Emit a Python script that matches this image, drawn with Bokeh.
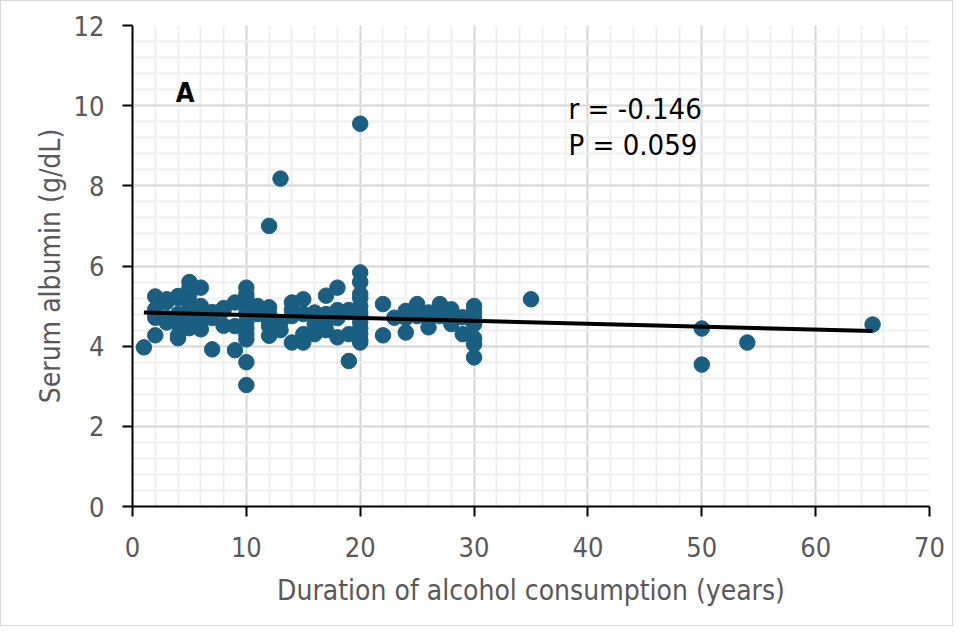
from bokeh.plotting import figure
from bokeh.models import Range1d, SingleIntervalTicker, Label, ColumnDataSource
from bokeh.embed import file_html
from bokeh.resources import INLINE

# ---- data ----
duration = [
    1,
    2, 2, 2, 2, 2,
    3, 3, 3, 3,
    4, 4, 4, 4, 4, 4,
    5, 5, 5, 5, 5, 5, 5, 5, 5,
    6, 6, 6, 6, 6, 6,
    7, 7, 7,
    8, 8, 8,
    9, 9, 9,
    10, 10, 10, 10, 10, 10, 10, 10, 10, 10, 10, 10,
    11, 11, 11,
    12, 12, 12, 12, 12, 12,
    13, 13, 13,
    14, 14, 14, 14,
    15, 15, 15, 15,
    16, 16, 16,
    17, 17, 17, 17,
    18, 18, 18, 18,
    19, 19, 19, 19,
    20, 20, 20, 20, 20, 20, 20, 20, 20, 20, 20, 20, 20,
    22, 22,
    23,
    24, 24, 24,
    25, 25, 25,
    26, 26, 26,
    27, 27, 27,
    28, 28, 28,
    29, 29,
    30, 30, 30, 30, 30, 30, 30,
    35,
    50, 50,
    54,
    65,
]
albumin = [
    3.97,
    5.24, 4.92, 4.71, 4.27, 4.80,
    5.17, 4.70, 4.59, 5.10,
    5.20, 5.25, 4.27, 4.20, 4.80, 4.55,
    5.60, 5.30, 5.10, 4.95, 4.80, 4.60, 4.45, 4.70, 5.45,
    5.46, 4.42, 4.70, 4.90, 4.60, 5.00,
    3.92, 4.85, 4.70,
    4.90, 4.51, 4.95,
    5.09, 3.90, 4.50,
    5.46, 5.30, 5.10, 4.95, 4.80, 4.60, 4.45, 4.30, 4.17, 3.60, 3.03, 5.20,
    5.00, 4.80, 4.90,
    7.00, 4.97, 4.26, 4.60, 4.80, 4.50,
    8.18, 4.59, 4.40,
    5.09, 4.09, 4.90, 4.75,
    5.17, 4.09, 4.80, 4.30,
    4.84, 4.30, 4.55,
    5.26, 4.60, 4.80, 4.40,
    5.46, 4.22, 4.90, 4.70,
    4.90, 3.63, 4.85, 4.30,
    9.55, 5.84, 5.60, 5.30, 5.20, 5.00, 4.85, 4.75, 4.60, 4.45, 4.30, 4.15, 4.09,
    5.05, 4.27,
    4.71,
    4.88, 4.34, 4.70,
    5.05, 4.75, 4.90,
    4.84, 4.47, 4.70,
    5.05, 4.75, 4.90,
    4.92, 4.55, 4.80,
    4.72, 4.30,
    5.00, 4.85, 4.70, 4.55, 4.20, 4.05, 3.72,
    5.17,
    4.44, 3.54,
    4.09,
    4.54,
]
trend_x = [1, 65]
trend_y = [4.84, 4.38]

panel_label = "A"
stats_lines = ["r = -0.146", "P = 0.059"]
x_title = "Duration of alcohol consumption (years)"
y_title = "Serum albumin (g/dL)"

# ---- styling ----
FONT = "DejaVu Sans Condensed"
GREY_TEXT = "#595959"
DOT = "#1a5f82"

p = figure(width=953, height=626, output_backend="svg", toolbar_location=None,
           x_range=Range1d(0, 70), y_range=Range1d(0, 12),
           min_border_left=131, min_border_right=25, min_border_top=24,
           min_border_bottom=121)
p.styles = {"border": "1px solid #d9d9d9"}
p.outline_line_color = None
p.background_fill_color = "white"
p.border_fill_color = "white"

p.xaxis.ticker = SingleIntervalTicker(interval=10, num_minor_ticks=5)
p.yaxis.ticker = SingleIntervalTicker(interval=2, num_minor_ticks=5)

for ax in (p.xaxis[0], p.yaxis[0]):
    ax.axis_line_color = "black"
    ax.axis_line_width = 2
    ax.major_tick_line_color = "black"
    ax.major_tick_line_width = 2
    ax.major_tick_in = 0
    ax.major_tick_out = 10
    ax.minor_tick_in = 0
    ax.minor_tick_out = 0
    ax.major_label_text_font = FONT
    ax.major_label_text_font_size = "27px"
    ax.major_label_text_color = GREY_TEXT
    ax.axis_label_text_font = FONT
    ax.axis_label_text_font_size = "28px"
    ax.axis_label_text_color = GREY_TEXT
    ax.axis_label_text_font_style = "normal"

p.xaxis.axis_label = x_title
p.yaxis.axis_label = y_title
p.xaxis.major_label_standoff = 20
p.yaxis.major_label_standoff = 18
p.xaxis.axis_label_standoff = 14
p.yaxis.axis_label_standoff = 4

for g in (p.xgrid[0], p.ygrid[0]):
    g.grid_line_color = "#d9d9d9"
    g.grid_line_width = 2
    g.minor_grid_line_color = "#efefef"
    g.minor_grid_line_width = 2

src = ColumnDataSource(dict(x=duration, y=albumin))
p.scatter("x", "y", source=src, size=15.5, fill_color=DOT, line_color=DOT)
p.line(trend_x, trend_y, line_color="black", line_width=4)

p.add_layout(Label(x=3.8, y=9.95, text=panel_label, text_font=FONT,
                   text_font_size="27px", text_font_style="bold",
                   text_color="black"))
p.add_layout(Label(x=38.3, y=9.5, text=stats_lines[0], text_font=FONT,
                   text_font_size="29px", text_color="black"))
p.add_layout(Label(x=38.3, y=8.6, text=stats_lines[1], text_font=FONT,
                   text_font_size="29px", text_color="black"))

open("out.html", "w").write(file_html(p, INLINE))
